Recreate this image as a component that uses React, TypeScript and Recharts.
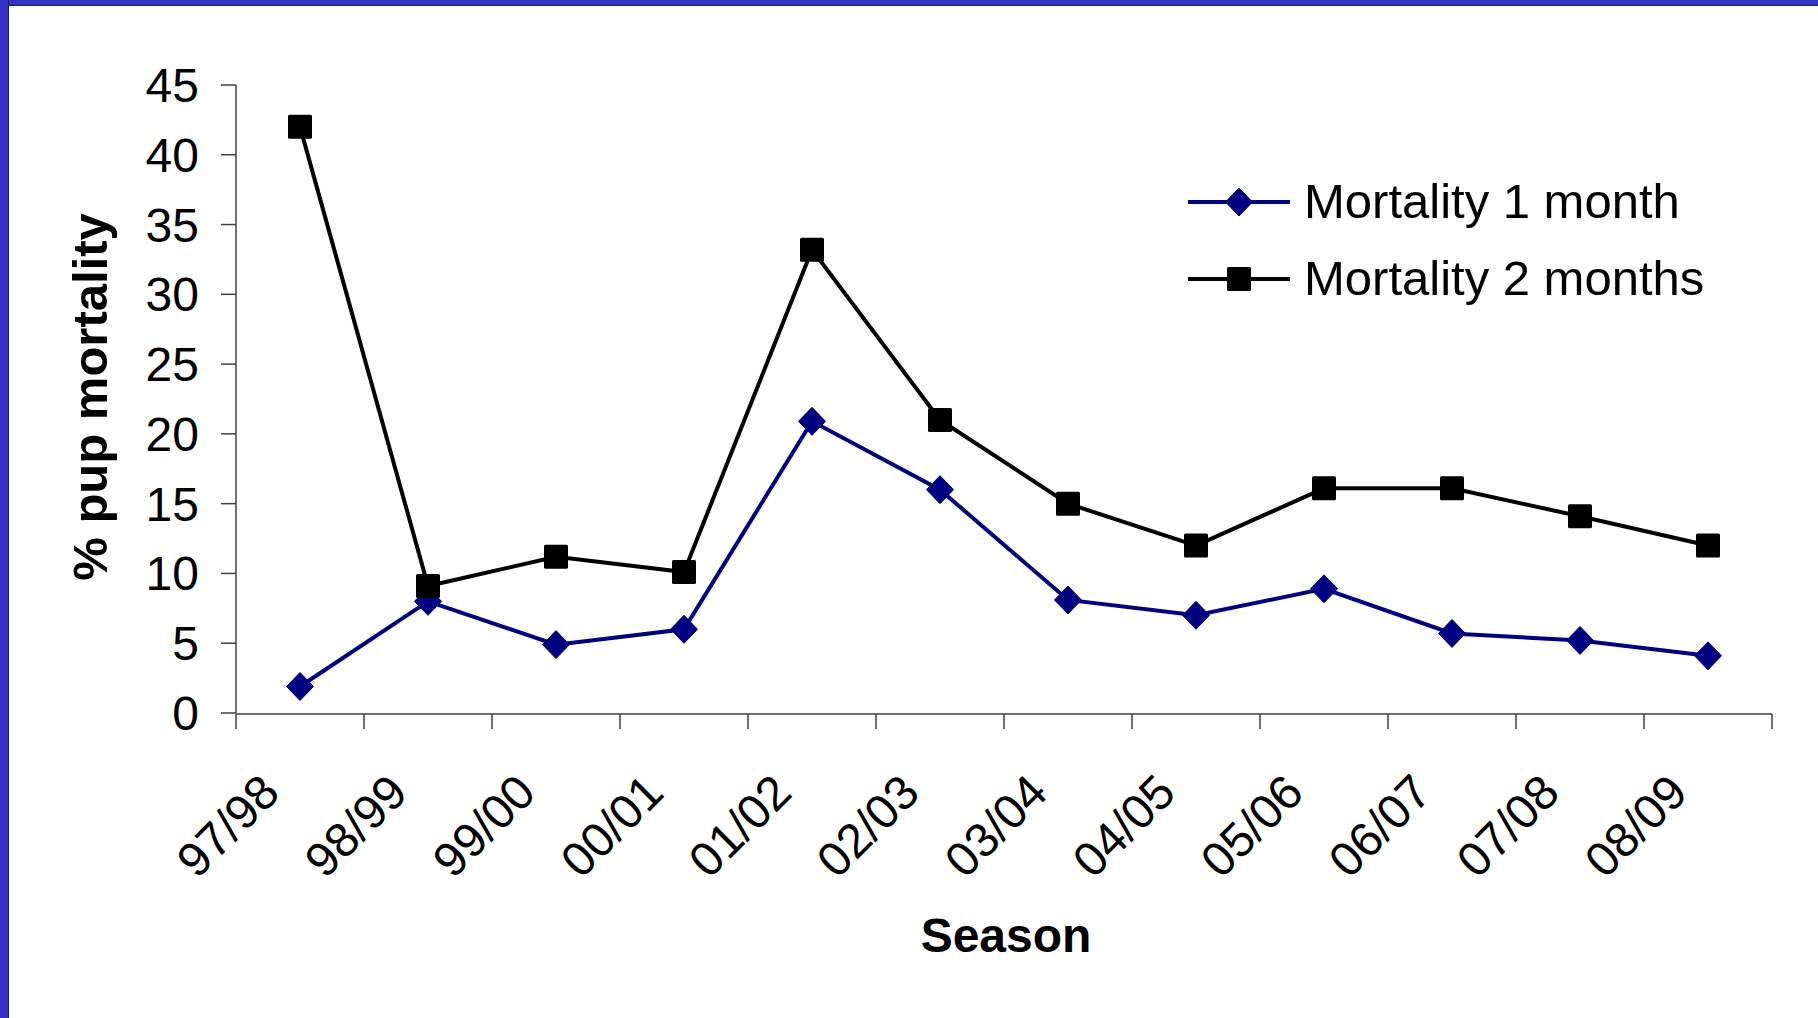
import React from "react"
import { LineChart, Line, XAxis, YAxis, Legend } from "recharts"

const seasons = ["97/98", "98/99", "99/00", "00/01", "01/02", "02/03", "03/04", "04/05", "05/06", "06/07", "07/08", "08/09"]
const mortality1Month = [1.9, 8, 4.9, 6, 20.9, 16, 8.1, 7, 8.9, 5.7, 5.2, 4.1]
const mortality2Months = [42, 9.1, 11.2, 10.1, 33.2, 21, 15, 12, 16.1, 16.1, 14.1, 12]
const yTicks = [0, 5, 10, 15, 20, 25, 30, 35, 40, 45]
const seasonEdges = [0, 1, 2, 3, 4, 5, 6, 7, 8, 9, 10, 11, 12]

const FONT = "'Liberation Sans', Arial, sans-serif"
const BLUE = "#000080"
const FRAME = "#3333CC"

// slot = middle of each season's band on the numeric "edges" axis
const data = seasons.map((season, i) => ({
  season,
  slot: i + 0.5,
  m1: mortality1Month[i],
  m2: mortality2Months[i],
}))

const series = [
  { key: "m1", name: "Mortality 1 month", color: BLUE, shape: "diamond" },
  { key: "m2", name: "Mortality 2 months", color: "#000000", shape: "square" },
]

const Marker = ({ cx, cy, shape, color }: { cx: number; cy: number; shape: string; color: string }) =>
  shape === "diamond" ? (
    <path d={`M${cx},${cy - 14} L${cx + 13.5},${cy} L${cx},${cy + 14} L${cx - 13.5},${cy} Z`} fill={color} stroke={color} strokeLinejoin="round" />
  ) : (
    <rect x={cx - 12} y={cy - 12} width={24} height={24} rx={1.5} fill={color} />
  )

const makeDot = (shape: string, color: string) => (props: any) => {
  const { cx, cy, index } = props
  if (cx == null || cy == null) return <g key={`e-${index}`} />
  return (
    <g key={`${shape}-${index}`}>
      <Marker cx={cx} cy={cy} shape={shape} color={color} />
    </g>
  )
}

const SeasonTick = (props: any) => {
  const { x, y, payload } = props
  const ax = x - 18
  const ay = y + 82
  return (
    <text x={ax} y={ay} transform={`rotate(-45 ${ax} ${ay})`} textAnchor="end" fontSize={48} fontFamily={FONT} fill="#000">
      {payload.value}
    </text>
  )
}

const NoLabel = () => <g />

const LegendBox = () => (
  <div style={{ fontFamily: FONT, fontSize: 49, color: "#000" }}>
    {series.map((s) => (
      <div key={s.key} style={{ display: "flex", alignItems: "center", height: 77 }}>
        <svg width={102} height={40} style={{ marginRight: 14 }}>
          <line x1={0} y1={20} x2={102} y2={20} stroke={s.color} strokeWidth={4} strokeLinecap="round" />
          <Marker cx={51} cy={20} shape={s.shape} color={s.color} />
        </svg>
        <span style={{ lineHeight: "77px", whiteSpace: "nowrap" }}>{s.name}</span>
      </div>
    ))}
  </div>
)

export default function App() {
  return (
    <div style={{ position: "absolute", left: 0, top: 0, width: 1818, height: 1018, background: "#fff", overflow: "hidden" }}>
      <div style={{ position: "absolute", left: 0, top: 0, width: 1818, height: 5, background: FRAME, borderBottom: "1px solid #222" }} />
      <div style={{ position: "absolute", left: 0, top: 0, width: 8, height: 1018, background: FRAME, borderRight: "1px solid #222" }} />
      <LineChart width={1818} height={1018} data={data} margin={{ top: 85, right: 46, bottom: 303, left: 0 }}>
        <XAxis
          xAxisId="edges"
          dataKey="slot"
          type="number"
          domain={[0, 12]}
          ticks={seasonEdges}
          allowDataOverflow
          interval={0}
          height={1}
          tick={<NoLabel />}
          tickSize={15}
          stroke="#404040"
          strokeWidth={1.5}
        />
        <XAxis
          xAxisId="cat"
          dataKey="season"
          scale="band"
          height={1}
          interval={0}
          tickLine={false}
          axisLine={false}
          tickSize={0}
          tickMargin={0}
          tick={<SeasonTick />}
        />
        <YAxis
          domain={[0, 45]}
          ticks={yTicks}
          interval={0}
          width={236}
          tickSize={15}
          tickMargin={22}
          stroke="#404040"
          strokeWidth={1.5}
          tick={{ fill: "#000", fontSize: 48, fontFamily: FONT }}
        />
        {series.map((s) => (
          <Line
            key={s.key}
            xAxisId="cat"
            dataKey={s.key}
            name={s.name}
            type="linear"
            stroke={s.color}
            strokeWidth={4}
            dot={makeDot(s.shape, s.color)}
            activeDot={false}
            isAnimationActive={false}
          />
        ))}
        <Legend
          layout="horizontal"
          align="center"
          verticalAlign="middle"
          content={<LegendBox />}
          wrapperStyle={{ left: 1188, top: 163, width: "auto", height: "auto" }}
        />
      </LineChart>
      <div style={{ position: "absolute", left: 806, top: 912, width: 400, textAlign: "center", fontFamily: FONT, fontWeight: "bold", fontSize: 48, lineHeight: "48px", color: "#000" }}>
        Season
      </div>
      <div style={{ position: "absolute", left: -160, top: 373, width: 500, height: 48, textAlign: "center", fontFamily: FONT, fontWeight: "bold", fontSize: 49, lineHeight: "48px", color: "#000", transform: "rotate(-90deg)", whiteSpace: "nowrap" }}>
        % pup mortality
      </div>
    </div>
  )
}
